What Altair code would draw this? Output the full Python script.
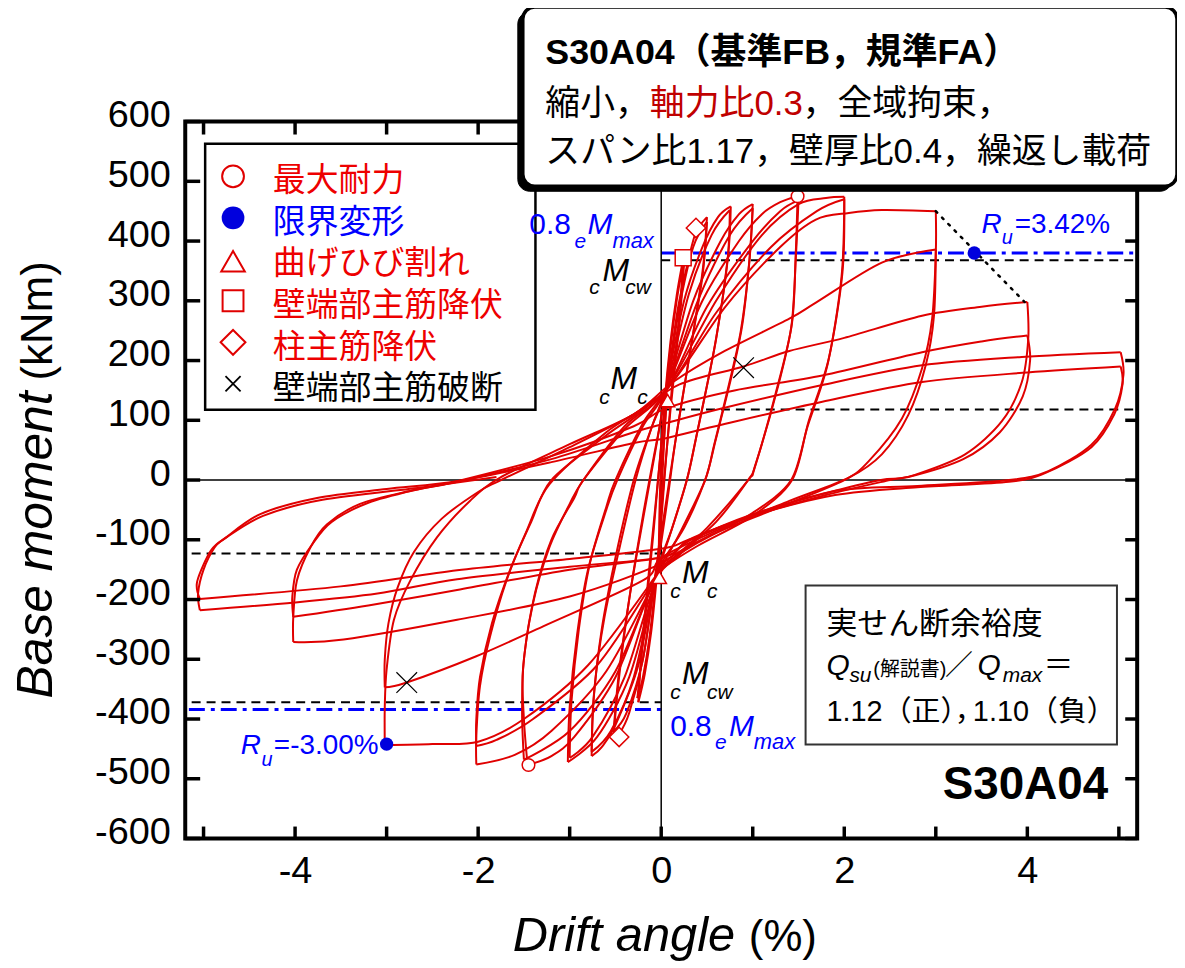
import altair as alt
import pandas as pd

# ---------------- scales / frame ----------------
X_DOMAIN = [-5.2, 5.2]
Y_DOMAIN = [-600, 600]
W, H = 956, 720

RED = "#e00000"
TXT_RED = "#ee0000"
BLUE = "#0000ff"
SANS = "Liberation Sans"
CJK = "Liberation Sans, Noto Sans CJK JP"

# ---------------- hysteresis half-cycles (drift %, moment kNm) ----------------
cyc_crack = [
    [(0, 0), (0.03, 70), (0.06, 135)],
    [(0.06, 135), (0.03, 60), (0.0, -40), (-0.02, -110), (-0.03, -160)],
]
cyc_025 = [
    [(-0.03, -160), (-0.02, -60), (0.0, 40), (0.04, 135), (0.1, 230), (0.17, 310), (0.24, 370)],
    [(0.24, 370), (0.2, 280), (0.12, 160), (0.05, 30), (0.0, -70), (-0.05, -165), (-0.11, -255), (-0.18, -325), (-0.25, -372)],
    [(-0.25, -372), (-0.2, -260), (-0.1, -100), (-0.01, 40), (0.05, 145), (0.12, 245), (0.19, 320), (0.25, 362)],
    [(0.25, 362), (0.2, 265), (0.1, 115), (0.03, 0), (-0.02, -100), (-0.06, -170), (-0.13, -265), (-0.2, -330), (-0.26, -365)],
]
cyc_050 = [
    [(-0.26, -365), (-0.18, -240), (-0.08, -80), (0.0, 60), (0.06, 150), (0.18, 285), (0.3, 370), (0.38, 415), (0.5, 440)],
    [(0.5, 440), (0.45, 347), (0.31, 209), (0.16, 70), (0.08, -20), (0.0, -105), (-0.07, -170), (-0.2, -300), (-0.35, -390), (-0.46, -425), (-0.52, -428)],
    [(-0.52, -428), (-0.46, -330), (-0.35, -200), (-0.2, -60), (-0.08, 40), (0.05, 145), (0.2, 290), (0.35, 390), (0.5, 432)],
    [(0.5, 432), (0.45, 340), (0.3, 200), (0.15, 60), (0.05, -40), (-0.02, -110), (-0.08, -175), (-0.2, -300), (-0.38, -390), (-0.52, -420)],
]
cyc_075 = [
    [(-0.52, -420), (-0.46, -320), (-0.34, -190), (-0.18, -50), (-0.05, 60), (0.05, 150), (0.25, 300), (0.45, 390), (0.62, 440), (0.76, 458)],
    [(0.76, 458), (0.73, 375), (0.6, 236), (0.38, 70), (0.28, 0), (0.12, -80), (0.0, -130), (-0.08, -172), (-0.25, -310), (-0.5, -410), (-0.65, -447), (-0.76, -462)],
    [(-0.76, -462), (-0.74, -370), (-0.65, -250), (-0.5, -130), (-0.3, 0), (-0.1, 90), (0.05, 150), (0.3, 310), (0.55, 410), (0.75, 452)],
    [(0.75, 452), (0.72, 360), (0.58, 220), (0.38, 70), (0.28, 0), (0.1, -90), (-0.07, -172), (-0.3, -330), (-0.55, -420), (-0.76, -455)],
]
cyc_100 = [
    [(-0.76, -455), (-0.73, -350), (-0.62, -230), (-0.45, -110), (-0.28, 0), (-0.1, 90), (0.06, 155), (0.35, 300), (0.65, 400), (0.85, 445), (1.0, 462)],
    [(1.0, 462), (0.97, 380), (0.89, 264), (0.78, 181), (0.6, 70), (0.48, 0), (0.25, -80), (0.0, -140), (-0.08, -180), (-0.35, -330), (-0.7, -430), (-1.02, -472)],
    [(-1.02, -472), (-1.0, -380), (-0.92, -260), (-0.8, -150), (-0.6, -50), (-0.48, 0), (-0.2, 90), (0.05, 150), (0.4, 300), (0.75, 410), (1.0, 455)],
    [(1.0, 455), (0.96, 360), (0.87, 250), (0.74, 160), (0.58, 60), (0.48, 0), (0.2, -90), (-0.07, -172), (-0.4, -330), (-0.75, -430), (-1.0, -465)],
]
cyc_150 = [
    [(-1.0, -465), (-0.98, -370), (-0.9, -250), (-0.78, -140), (-0.6, -45), (-0.5, 0), (-0.2, 95), (0.06, 155), (0.45, 300), (0.85, 400), (1.1, 445), (1.3, 465), (1.49, 475)],
    [(1.49, 475), (1.47, 380), (1.43, 264), (1.27, 153), (1.03, 26), (0.95, 0), (0.6, -70), (0.2, -125), (-0.08, -172), (-0.5, -330), (-0.95, -430), (-1.2, -462), (-1.46, -477)],
    [(-1.46, -477), (-1.5, -400), (-1.51, -317), (-1.40, -206), (-1.22, -112), (-1.0, -40), (-0.85, 0), (-0.4, 90), (0.05, 150), (0.5, 290), (1.0, 400), (1.3, 450), (1.5, 468)],
    [(1.5, 468), (1.47, 370), (1.42, 255), (1.25, 145), (1.02, 20), (0.95, 0), (0.5, -80), (0.1, -135), (-0.08, -170), (-0.5, -320), (-1.0, -420), (-1.5, -468)],
]
cyc_200 = [
    [(-1.5, -468), (-1.52, -390), (-1.5, -300), (-1.38, -190), (-1.2, -100), (-0.95, -30), (-0.85, 0), (-0.4, 85), (0.05, 150), (0.6, 300), (1.1, 410), (1.5, 462), (1.8, 472), (2.0, 474)],
    [(2.0, 474), (1.98, 347), (1.83, 203), (1.61, 98), (1.43, 0), (1.0, -60), (0.4, -110), (0.0, -150), (-0.08, -172), (-0.6, -320), (-1.2, -420), (-1.6, -460), (-2.02, -476)],
    [(-2.02, -476), (-2.02, -428), (-1.98, -345), (-1.87, -262), (-1.69, -168), (-1.47, -85), (-1.22, -7), (-0.6, 80), (0.05, 150), (0.6, 280), (1.2, 390), (1.7, 450), (2.0, 470)],
    [(2.0, 470), (1.97, 340), (1.82, 195), (1.6, 90), (1.42, 0), (1.0, -55), (0.4, -105), (0.0, -145), (-0.08, -168), (-0.7, -310), (-1.4, -400), (-1.8, -435), (-2.02, -445)],
]
cyc_300 = [
    [(-2.02, -445), (-2.02, -400), (-1.98, -330), (-1.85, -240), (-1.65, -150), (-1.42, -70), (-1.2, 0), (-0.6, 75), (0.05, 150), (0.7, 290), (1.3, 390), (1.69, 436), (2.05, 447), (2.41, 452), (3.0, 450)],
    [(3.0, 450), (3.0, 380), (2.96, 270), (2.85, 187), (2.63, 103), (2.27, 32), (2.0, 0), (1.3, -45), (0.5, -95), (0.0, -140), (-0.08, -165), (-0.8, -310), (-1.5, -400), (-2.0, -438), (-2.5, -442), (-3.02, -444)],
    [(-3.02, -444), (-3.02, -380), (-3.0, -317), (-2.92, -234), (-2.74, -168), (-2.45, -96), (-2.09, -35), (-1.76, 4), (-1.0, 60), (-0.3, 110), (0.13, 164), (0.67, 214), (1.40, 270), (1.69, 297), (2.41, 364), (3.0, 386)],
    [(3.0, 386), (2.98, 275), (2.89, 192), (2.70, 109), (2.41, 43), (2.05, 4), (1.4, -35), (0.6, -85), (0.0, -130), (-0.2, -168), (-1.29, -245), (-2.02, -295), (-2.78, -339), (-3.02, -347)],
]
cyc_400 = [
    [(-3.02, -347), (-3.02, -300), (-2.98, -240), (-2.88, -180), (-2.7, -120), (-2.4, -65), (-2.0, -20), (-1.75, 0), (-1.0, 55), (-0.3, 110), (0.2, 160), (0.9, 190), (1.4, 216), (2.0, 238), (2.85, 275), (3.5, 290), (4.0, 298)],
    [(4.0, 298), (4.01, 236), (3.94, 164), (3.72, 98), (3.32, 43), (2.78, 9), (2.5, 0), (1.8, -25), (1.0, -60), (0.3, -100), (0.0, -140), (-1.0, -195), (-2.23, -234), (-3.47, -267), (-4.02, -271)],
    [(-4.02, -271), (-4.02, -230), (-3.98, -168), (-3.83, -112), (-3.65, -74), (-3.29, -40), (-2.74, -18), (-2.23, -2), (-1.2, 40), (-0.3, 90), (0.05, 120), (0.8, 150), (1.76, 175), (2.85, 214), (3.5, 232), (4.0, 242)],
    [(4.0, 242), (4.03, 200), (3.95, 140), (3.7, 80), (3.3, 35), (2.7, 5), (2.4, 0), (1.8, -22), (1.0, -57), (0.31, -101), (0.02, -129), (-1.0, -150), (-2.23, -184), (-3.2, -210), (-4.02, -229)],
]
cyc_500 = [
    [(-4.02, -229), (-4.03, -195), (-3.98, -150), (-3.8, -105), (-3.6, -70), (-3.2, -38), (-2.7, -17), (-2.2, -2), (-1.2, 35), (-0.3, 80), (0.05, 95), (0.67, 120), (1.76, 159), (2.85, 192), (3.94, 206), (5.02, 214)],
    [(5.02, 214), (5.05, 176), (4.96, 120), (4.70, 59), (4.23, 15), (3.8, 0), (2.8, -10), (1.91, -18), (1.03, -57), (0.31, -101), (0.02, -129), (-1.0, -145), (-2.23, -166), (-3.1, -190), (-4.0, -205), (-5.04, -218)],
    [(-5.04, -218), (-5.06, -190), (-5.0, -150), (-4.88, -113), (-4.77, -98), (-4.38, -57), (-3.76, -30), (-3.0, -15), (-2.23, -2), (-1.2, 30), (-0.3, 62), (0.05, 70), (0.67, 93), (1.76, 131), (2.85, 164), (4.0, 180), (5.02, 190)],
    [(5.02, 190), (5.04, 160), (4.95, 110), (4.7, 55), (4.2, 12), (3.8, -3), (2.8, -12), (1.9, -25), (1.0, -60), (0.3, -100), (0.0, -115), (-1.0, -132), (-2.23, -151), (-3.5, -178), (-5.04, -199)],
    [(-5.04, -199), (-5.07, -170), (-4.92, -118), (-4.75, -96), (-4.35, -60), (-3.7, -33), (-2.6, -12), (-1.8, 5)],
]
all_cycles = [cyc_crack, cyc_025, cyc_050, cyc_075, cyc_100, cyc_150, cyc_200, cyc_300, cyc_400, cyc_500]

# ---------------- event markers ----------------
maxload_x, maxload_y = [1.49, -1.45], [475, -477]          # 最大耐力
limit_x, limit_y = [3.42, -3.00], [380, -442]              # 限界変形
crack_x, crack_y = [0.07, -0.02], [133, -163]              # 曲げひび割れ
wall_yield_x, wall_yield_y = [0.24], [372]                 # 壁端部主筋降伏
col_yield_x, col_yield_y = [0.38, -0.46], [422, -430]      # 柱主筋降伏
fracture_x, fracture_y = [0.90, -2.78], [188, -339]        # 壁端部主筋破断

# ---------------- reference levels ----------------
cMcw_pos, cMcw_neg = 368, -372
cMc_pos, cMc_neg = 118, -123
eMmax08_pos, eMmax08_neg = 380, -384
ref_left = -5.13
ref_right = 5.2
ru_line_x = [3.0, 3.97]
ru_line_y = [450, 298]

y_tick_vals = list(range(-600, 601, 100))
x_tick_vals = list(range(-5, 6))
x_label_vals = [-4, -2, 0, 2, 4]

# ---------------- build tables ----------------
rows = []
for ci, cyc in enumerate(all_cycles):
    for hi, half in enumerate(cyc):
        for k, (xv, yv) in enumerate(half):
            rows.append({"branch": f"{ci}_{hi}", "ord": k, "x": xv, "y": yv})
curve_df = pd.DataFrame(rows)

xs = alt.Scale(domain=X_DOMAIN, nice=False, zero=False)
ys = alt.Scale(domain=Y_DOMAIN, nice=False, zero=False)

minus_expr = "datum.value < 0 ? '-' + (-datum.value) : '' + datum.value"
X_AXIS = alt.Axis(values=x_label_vals, title=None, grid=False, ticks=False, domain=False,
                  labelFont=SANS, labelFontSize=38, labelColor="black", labelPadding=14,
                  labelExpr=minus_expr)
Y_AXIS = alt.Axis(values=y_tick_vals, title=None, grid=False, ticks=False, domain=False,
                  labelFont=SANS, labelFontSize=38, labelColor="black", labelPadding=15,
                  labelOffset=-6, labelExpr=minus_expr)

def qx(f="x"):
    return alt.X(f"{f}:Q", scale=xs, axis=X_AXIS)

def qy(f="y"):
    return alt.Y(f"{f}:Q", scale=ys, axis=Y_AXIS)

curve = alt.Chart(curve_df).mark_line(
    color=RED, strokeWidth=2, interpolate="cardinal", tension=0.1
).encode(x=qx(), y=qy(), detail="branch:N", order="ord:Q")

zero_df = pd.DataFrame({"v": [0]})
zero_v = alt.Chart(zero_df).mark_rule(color="black", strokeWidth=1.5).encode(x=qx("v"))
zero_h = alt.Chart(zero_df).mark_rule(color="black", strokeWidth=1.5).encode(y=qy("v"))

dash_df = pd.DataFrame({
    "x1": [0, 0, ref_left, ref_left],
    "x2": [ref_right, ref_right, 0, 0],
    "y": [cMcw_pos, cMc_pos, cMcw_neg, cMc_neg],
})
dash_lines = alt.Chart(dash_df).mark_rule(color="black", strokeWidth=2, strokeDash=[9, 6]).encode(
    x=qx("x1"), x2="x2:Q", y=qy("y"))

blue_df = pd.DataFrame({"x1": [0, ref_left - 0.03], "x2": [ref_right, 0], "y": [eMmax08_pos, eMmax08_neg]})
blue_lines = alt.Chart(blue_df).mark_rule(color=BLUE, strokeWidth=3, strokeDash=[16, 6, 4, 6]).encode(
    x=qx("x1"), x2="x2:Q", y=qy("y"))

dot_df = pd.DataFrame({"x1": [ru_line_x[0]], "x2": [ru_line_x[1]], "y1": [ru_line_y[0]], "y2": [ru_line_y[1]]})
dot_line = alt.Chart(dot_df).mark_rule(color="black", strokeWidth=2.5, strokeDash=[2, 7], strokeCap="round").encode(
    x=qx("x1"), x2="x2:Q", y=qy("y1"), y2="y2:Q")

# frame ticks (inside)
yt = pd.DataFrame({"v": y_tick_vals})
xt = pd.DataFrame({"v": x_tick_vals})
tick_left = alt.Chart(yt).mark_rule(color="black", strokeWidth=3.5).encode(y=qy("v"), x=alt.value(0), x2=alt.value(15))
tick_right = alt.Chart(yt).mark_rule(color="black", strokeWidth=3.5).encode(y=qy("v"), x=alt.value(W), x2=alt.value(W - 12))
tick_bottom = alt.Chart(xt).mark_rule(color="black", strokeWidth=3.5).encode(x=qx("v"), y=alt.value(H), y2=alt.value(H - 12))
tick_top = alt.Chart(xt).mark_rule(color="black", strokeWidth=3.5).encode(x=qx("v"), y=alt.value(0), y2=alt.value(13))

# markers
def pts(xv, yv):
    return pd.DataFrame({"x": xv, "y": yv})

m_max = alt.Chart(pts(maxload_x, maxload_y)).mark_point(
    shape="circle", size=160, fill="white", fillOpacity=1, stroke=RED, strokeWidth=1.5, opacity=1
).encode(x=qx(), y=qy())
m_limit = alt.Chart(pts(limit_x, limit_y)).mark_point(
    shape="circle", size=180, filled=True, color="#0000dd", opacity=1
).encode(x=qx(), y=qy())
m_crack = alt.Chart(pts(crack_x, crack_y)).mark_point(
    shape="triangle-up", size=200, fill="white", fillOpacity=1, stroke=RED, strokeWidth=1.5, opacity=1
).encode(x=qx(), y=qy())
m_wall = alt.Chart(pts(wall_yield_x, wall_yield_y)).mark_point(
    shape="square", size=256, fill="white", fillOpacity=1, stroke=RED, strokeWidth=1.5, opacity=1
).encode(x=qx(), y=qy())
m_col = alt.Chart(pts(col_yield_x, col_yield_y)).mark_point(
    shape="diamond", size=380, fill="white", fillOpacity=1, stroke=RED, strokeWidth=1.5, opacity=1
).encode(x=qx(), y=qy())
XPATH = "M-1,-1L1,1M1,-1L-1,1"
m_frac = alt.Chart(pts(fracture_x, fracture_y)).mark_point(
    shape=XPATH, size=430, filled=False, stroke="black", strokeWidth=1.2, opacity=1
).encode(x=qx(), y=qy())

# ---------------- annotations (pixel positions) ----------------
one = pd.DataFrame({"k": [0]})

def T(text, x, y, size, color="black", font=SANS, style="normal", weight="normal",
      align="left", baseline="alphabetic", angle=None):
    kw = dict(text=text, font=font, fontSize=size, fontStyle=style, fontWeight=weight,
              align=align, baseline=baseline, color=color)
    if angle is not None:
        kw["angle"] = angle
    return alt.Chart(one).mark_text(**kw).encode(x=alt.value(x), y=alt.value(y))

def R(x1, y1, x2, y2, stroke="black", sw=2, fill="white", radius=0):
    return alt.Chart(one).mark_rect(fill=fill, stroke=stroke, strokeWidth=sw, cornerRadius=radius).encode(
        x=alt.value(x1), x2=alt.value(x2), y=alt.value(y1), y2=alt.value(y2))

def P(shape, x, y, size, stroke=RED, fill="white", sw=2, filled=False):
    if filled:
        return alt.Chart(one).mark_point(shape=shape, size=size, filled=True, color=fill, opacity=1).encode(
            x=alt.value(x), y=alt.value(y))
    return alt.Chart(one).mark_point(shape=shape, size=size, fill=fill, fillOpacity=1, stroke=stroke,
                                     strokeWidth=sw, opacity=1).encode(x=alt.value(x), y=alt.value(y))

boxes = []
# legend box
boxes += [R(20, 22.3, 351.7, 289.3, stroke="black", sw=2.5)]
# bottom-right box
boxes += [R(623, 466, 935.7, 625.7, stroke="#333333", sw=2)]

ann = []
# legend contents
leg_y = [55, 96.7, 138.3, 180, 221.7, 263.3]
leg_base = [70, 112, 153.5, 195, 237, 278.5]
leg_text = ["最大耐力", "限界変形", "曲げひび割れ", "壁端部主筋降伏", "柱主筋降伏", "壁端部主筋破断"]
leg_col = [TXT_RED, BLUE, TXT_RED, TXT_RED, TXT_RED, "black"]
ann += [P("circle", 48, leg_y[0], 480),
        P("circle", 48, leg_y[1], 520, fill="#0000dd", filled=True),
        P("triangle-up", 48, leg_y[2] + 2, 560),
        P("square", 48, leg_y[3], 440),
        P("diamond", 48, leg_y[4], 620),
        P(XPATH, 48, leg_y[5], 230, stroke="black", fill="none", sw=1.8)]
for t, yb, c in zip(leg_text, leg_base, leg_col):
    ann.append(T(t, 88, yb, 33, c, font=CJK))

# positive-side labels
ann += [T("0.8", 345.5, 113.3, 30, BLUE), T("e", 391, 126.7, 21, BLUE, style="italic"),
        T("M", 404, 113.3, 30, BLUE, style="italic"), T("max", 429, 126.7, 22, BLUE, style="italic")]
ann += [T("c", 405.7, 172.7, 21, style="italic"), T("M", 419, 160, 32, style="italic"),
        T("cw", 442, 172.7, 21, style="italic")]
ann += [T("c", 415.7, 283.3, 21, style="italic"), T("M", 427, 268.3, 32, style="italic"),
        T("c", 454, 283.3, 21, style="italic")]
# negative-side labels
ann += [T("c", 487, 478.3, 21, style="italic"), T("M", 499, 463.3, 32, style="italic"),
        T("c", 524, 478.3, 21, style="italic")]
ann += [T("c", 487, 580, 21, style="italic"), T("M", 499, 565, 32, style="italic"),
        T("cw", 524, 580, 21, style="italic")]
ann += [T("0.8", 487, 616.7, 30, BLUE), T("e", 532, 630, 21, BLUE, style="italic"),
        T("M", 546, 616.7, 30, BLUE, style="italic"), T("max", 571, 630, 22, BLUE, style="italic")]
# Ru labels
ann += [T("R", 799.7, 111.7, 28, BLUE, style="italic"), T("u", 820, 123, 20, BLUE, style="italic"),
        T("=3.42%", 833, 111.7, 28, BLUE)]
ann += [T("R", 55.7, 635, 28, BLUE, style="italic"), T("u", 76.5, 646.7, 20, BLUE, style="italic"),
        T("=-3.00%", 89, 635, 28, BLUE)]
# specimen name
ann += [T("S30A04", 760.7, 680, 46, weight="bold")]

# bottom-right box text
ann += [T("実せん断余裕度", 644, 515, 31, font=CJK),
        T("Q", 644, 555.7, 30, style="italic"), T("su", 667, 563, 21, style="italic"),
        T("(解説書)", 691, 557, 20, font=CJK), T("／", 763, 555.7, 28, font=CJK),
        T("Q", 795.7, 555.7, 30, style="italic"), T("max", 821, 563, 21, style="italic"),
        T("＝", 862, 555.7, 30, font=CJK),
        T("1.12（正），", 644, 602, 29, font=CJK), T("1.10（負）", 791, 602, 29, font=CJK)]

# title box (with drop shadow)
title = [R(334, -110, 991, 70, stroke="black", sw=1, fill="black", radius=12),
         R(339, -115, 996, 65, stroke="black", sw=3.5, radius=12)]
title += [T("S30A04（基準FB，規準FA）", 361.6, -58.3, 36, font=CJK, weight="bold"),
          T("縮小，", 361.6, -6.7, 35, font=CJK),
          T("軸力比0.3", 466.6, -6.7, 35, "#c00000", font=CJK),
          T("，全域拘束，", 620, -6.7, 35, font=CJK),
          T("スパン比1.17，壁厚比0.4，繰返し載荷", 361.6, 41.7, 35, font=CJK)]

# axis titles
ann += [T("Drift angle", 329, 833.3, 49, style="italic"), T("(%)", 566, 833.3, 44)]
ann += [T("Base moment", -134, 271, 50, style="italic", align="right", angle=270),
        T("(kNm)", -134, 260, 44, align="left", angle=270)]

chart = alt.layer(
    dash_lines, blue_lines, zero_v, zero_h, curve, dot_line,
    m_max, m_limit, m_crack, m_wall, m_col, m_frac,
    tick_left, tick_right, tick_bottom, tick_top,
    *boxes, *ann, *title
).properties(
    width=W, height=H,
    autosize=alt.AutoSizeParams(type="none"),
    padding={"left": 178, "top": 112, "right": 40, "bottom": 128},
    background="white",
).configure_view(stroke="black", strokeWidth=4)

chart.save("out.html", embed_options={"renderer": "svg", "actions": False})
